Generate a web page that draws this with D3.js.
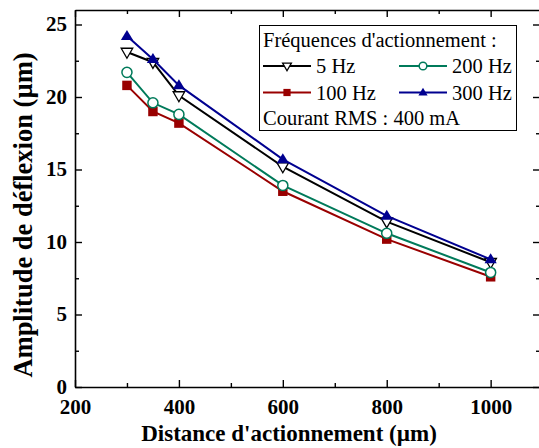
<!DOCTYPE html>
<html>
<head>
<meta charset="utf-8">
<script src="https://cdn.jsdelivr.net/npm/d3@7"></script>
<style>
  body { margin: 0; background: #fff; }
  svg { display: block; }
</style>
</head>
<body>
<div id="root"></div>
<script>
// Size of the picture
const width = 539;
const height = 448;
const serif = "'Liberation Serif', 'Times New Roman', serif";

// Data
const distances = [300, 350, 400, 600, 800, 1000];
const hz5 = [23.1, 22.4, 20.1, 15.2, 11.4, 8.6];
const hz100 = [20.8, 19.0, 18.2, 13.5, 10.2, 7.6];
const hz200 = [21.7, 19.6, 18.8, 13.9, 10.6, 7.9];
const hz300 = [24.2, 22.6, 20.8, 15.7, 11.8, 8.8];

const xTicks = [200, 400, 600, 800, 1000];
const xMinor = [300, 500, 700, 900];
const yTicks = [0, 5, 10, 15, 20, 25];
const yMinor = [2.5, 7.5, 12.5, 17.5, 22.5];

const legendTitle = "Fréquences d'actionnement :";
const legendNote = "Courant RMS : 400 mA";
const xTitle = "Distance d'actionnement (µm)";
const yTitle = "Amplitude de déflexion (µm)";

// Plot area
const plotLeft = 75, plotRight = 540, plotTop = 10, plotBottom = 387;

const svg = d3
  .select("#root")
  .append("svg")
  .attr("width", width)
  .attr("height", height)
  .style("font-family", serif);

// Scales
const xScale = d3.scaleLinear().domain([200, 1095]).range([plotLeft, plotRight]);
const yScale = d3.scaleLinear().domain([0, 26]).range([plotBottom, plotTop]);

// Series description
const series = [
  { name: "5 Hz", values: hz5, color: "#000000", marker: "tdown" },
  { name: "100 Hz", values: hz100, color: "#990000", marker: "square" },
  { name: "200 Hz", values: hz200, color: "#007a5a", marker: "circle" },
  { name: "300 Hz", values: hz300, color: "#000090", marker: "tup" }
];

// Draws a marker at (x, y)
function drawMarker(g, type, x, y, color, s) {
  if (type === "square") {
    g.append("rect")
      .attr("x", x - s * 0.45).attr("y", y - s * 0.45)
      .attr("width", s * 0.9).attr("height", s * 0.9)
      .attr("fill", color);
  } else if (type === "circle") {
    g.append("circle")
      .attr("cx", x).attr("cy", y).attr("r", s * 0.48)
      .attr("fill", "#fff").attr("stroke", color).attr("stroke-width", 1.5);
  } else if (type === "tup") {
    const h = s * 0.95;
    g.append("path")
      .attr("d", `M${x},${y - h * 0.62}L${x + s * 0.58},${y + h * 0.38}L${x - s * 0.58},${y + h * 0.38}Z`)
      .attr("fill", color);
  } else if (type === "tdown") {
    const h = s * 0.95;
    g.append("path")
      .attr("d", `M${x},${y + h * 0.62}L${x + s * 0.55},${y - h * 0.38}L${x - s * 0.55},${y - h * 0.38}Z`)
      .attr("fill", "#fff").attr("stroke", color).attr("stroke-width", 1.3);
  }
}

// Axes (ticks pointing inward)
const axisColor = "#000";
function styleAxis(g) {
  g.attr("font-family", null);
  g.select(".domain").attr("stroke", axisColor).attr("stroke-width", 1.6);
  g.selectAll(".tick line").attr("stroke", axisColor).attr("stroke-width", 1.4);
}

// bottom
svg.append("g")
  .attr("transform", `translate(0,${plotBottom})`)
  .call(d3.axisBottom(xScale).tickValues(xTicks).tickSizeInner(-7).tickSizeOuter(0).tickFormat(d3.format("d")))
  .call(styleAxis)
  .call(g => g.selectAll(".tick text")
    .attr("y", 27).attr("dy", 0)
    .attr("font-size", 21).attr("font-weight", "bold")
    .style("font-family", serif).attr("fill", "#000"));
svg.append("g")
  .attr("transform", `translate(0,${plotBottom})`)
  .call(d3.axisBottom(xScale).tickValues(xMinor).tickSizeInner(-4).tickSizeOuter(0).tickFormat(""))
  .call(styleAxis)
  .call(g => g.select(".domain").remove());

// top
svg.append("g")
  .attr("transform", `translate(0,${plotTop})`)
  .call(d3.axisTop(xScale).tickValues(xTicks).tickSizeInner(-7).tickSizeOuter(0).tickFormat(""))
  .call(styleAxis);
svg.append("g")
  .attr("transform", `translate(0,${plotTop})`)
  .call(d3.axisTop(xScale).tickValues(xMinor).tickSizeInner(-4).tickSizeOuter(0).tickFormat(""))
  .call(styleAxis)
  .call(g => g.select(".domain").remove());

// left
svg.append("g")
  .attr("transform", `translate(${plotLeft},0)`)
  .call(d3.axisLeft(yScale).tickValues(yTicks).tickSizeInner(-7).tickSizeOuter(0).tickFormat(d3.format("d")))
  .call(styleAxis)
  .call(g => g.selectAll(".tick text")
    .attr("x", -8).attr("dy", "0.3em")
    .attr("font-size", 21).attr("font-weight", "bold")
    .style("font-family", serif).attr("fill", "#000"));
svg.append("g")
  .attr("transform", `translate(${plotLeft},0)`)
  .call(d3.axisLeft(yScale).tickValues(yMinor).tickSizeInner(-4).tickSizeOuter(0).tickFormat(""))
  .call(styleAxis)
  .call(g => g.select(".domain").remove());

// right
svg.append("g")
  .attr("transform", `translate(${plotRight},0)`)
  .call(d3.axisRight(yScale).tickValues(yTicks).tickSizeInner(-7).tickSizeOuter(0).tickFormat(""))
  .call(styleAxis);
svg.append("g")
  .attr("transform", `translate(${plotRight},0)`)
  .call(d3.axisRight(yScale).tickValues(yMinor).tickSizeInner(-4).tickSizeOuter(0).tickFormat(""))
  .call(styleAxis)
  .call(g => g.select(".domain").remove());

// Axis titles
svg.append("text")
  .attr("x", 289)
  .attr("y", 441)
  .attr("text-anchor", "middle")
  .attr("font-size", 23)
  .attr("font-weight", "bold")
  .style("font-family", serif)
  .text(xTitle);

svg.append("text")
  .attr("transform", `translate(32,${215}) rotate(-90)`)
  .attr("text-anchor", "middle")
  .attr("font-size", 26.5)
  .attr("font-weight", "bold")
  .style("font-family", serif)
  .text(yTitle);

// Lines and markers
const line = d3.line()
  .x((d, i) => xScale(distances[i]))
  .y(d => yScale(d));

series.forEach(s => {
  svg.append("path")
    .datum(s.values)
    .attr("fill", "none")
    .attr("stroke", s.color)
    .attr("stroke-width", 2)
    .attr("d", line);
  const g = svg.append("g");
  s.values.forEach((v, i) => {
    drawMarker(g, s.marker, xScale(distances[i]), yScale(v), s.color, 10.5);
  });
});

// Legend
const legend = svg.append("g");
legend.append("rect")
  .attr("x", 259.5).attr("y", 25.5)
  .attr("width", 257).attr("height", 105)
  .attr("fill", "#fff")
  .attr("stroke", "#000")
  .attr("stroke-width", 1);

legend.append("text")
  .attr("x", 263).attr("y", 47)
  .attr("font-size", 20.5)
  .style("font-family", serif)
  .text(legendTitle);

legend.append("text")
  .attr("x", 263).attr("y", 125)
  .attr("font-size", 20.5)
  .style("font-family", serif)
  .text(legendNote);

const legendPos = [
  { x: 263, y: 66 },
  { x: 263, y: 92.5 },
  { x: 399, y: 66 },
  { x: 399, y: 92.5 }
];

series.forEach((s, i) => {
  const p = legendPos[i];
  legend.append("line")
    .attr("x1", p.x).attr("x2", p.x + 48)
    .attr("y1", p.y).attr("y2", p.y)
    .attr("stroke", s.color).attr("stroke-width", 2);
  drawMarker(legend, s.marker, p.x + 24, p.y, s.color, 8);
  legend.append("text")
    .attr("x", p.x + 53).attr("y", p.y + 7)
    .attr("font-size", 20.5)
    .style("font-family", serif)
    .text(s.name);
});
</script>
</body>
</html>
